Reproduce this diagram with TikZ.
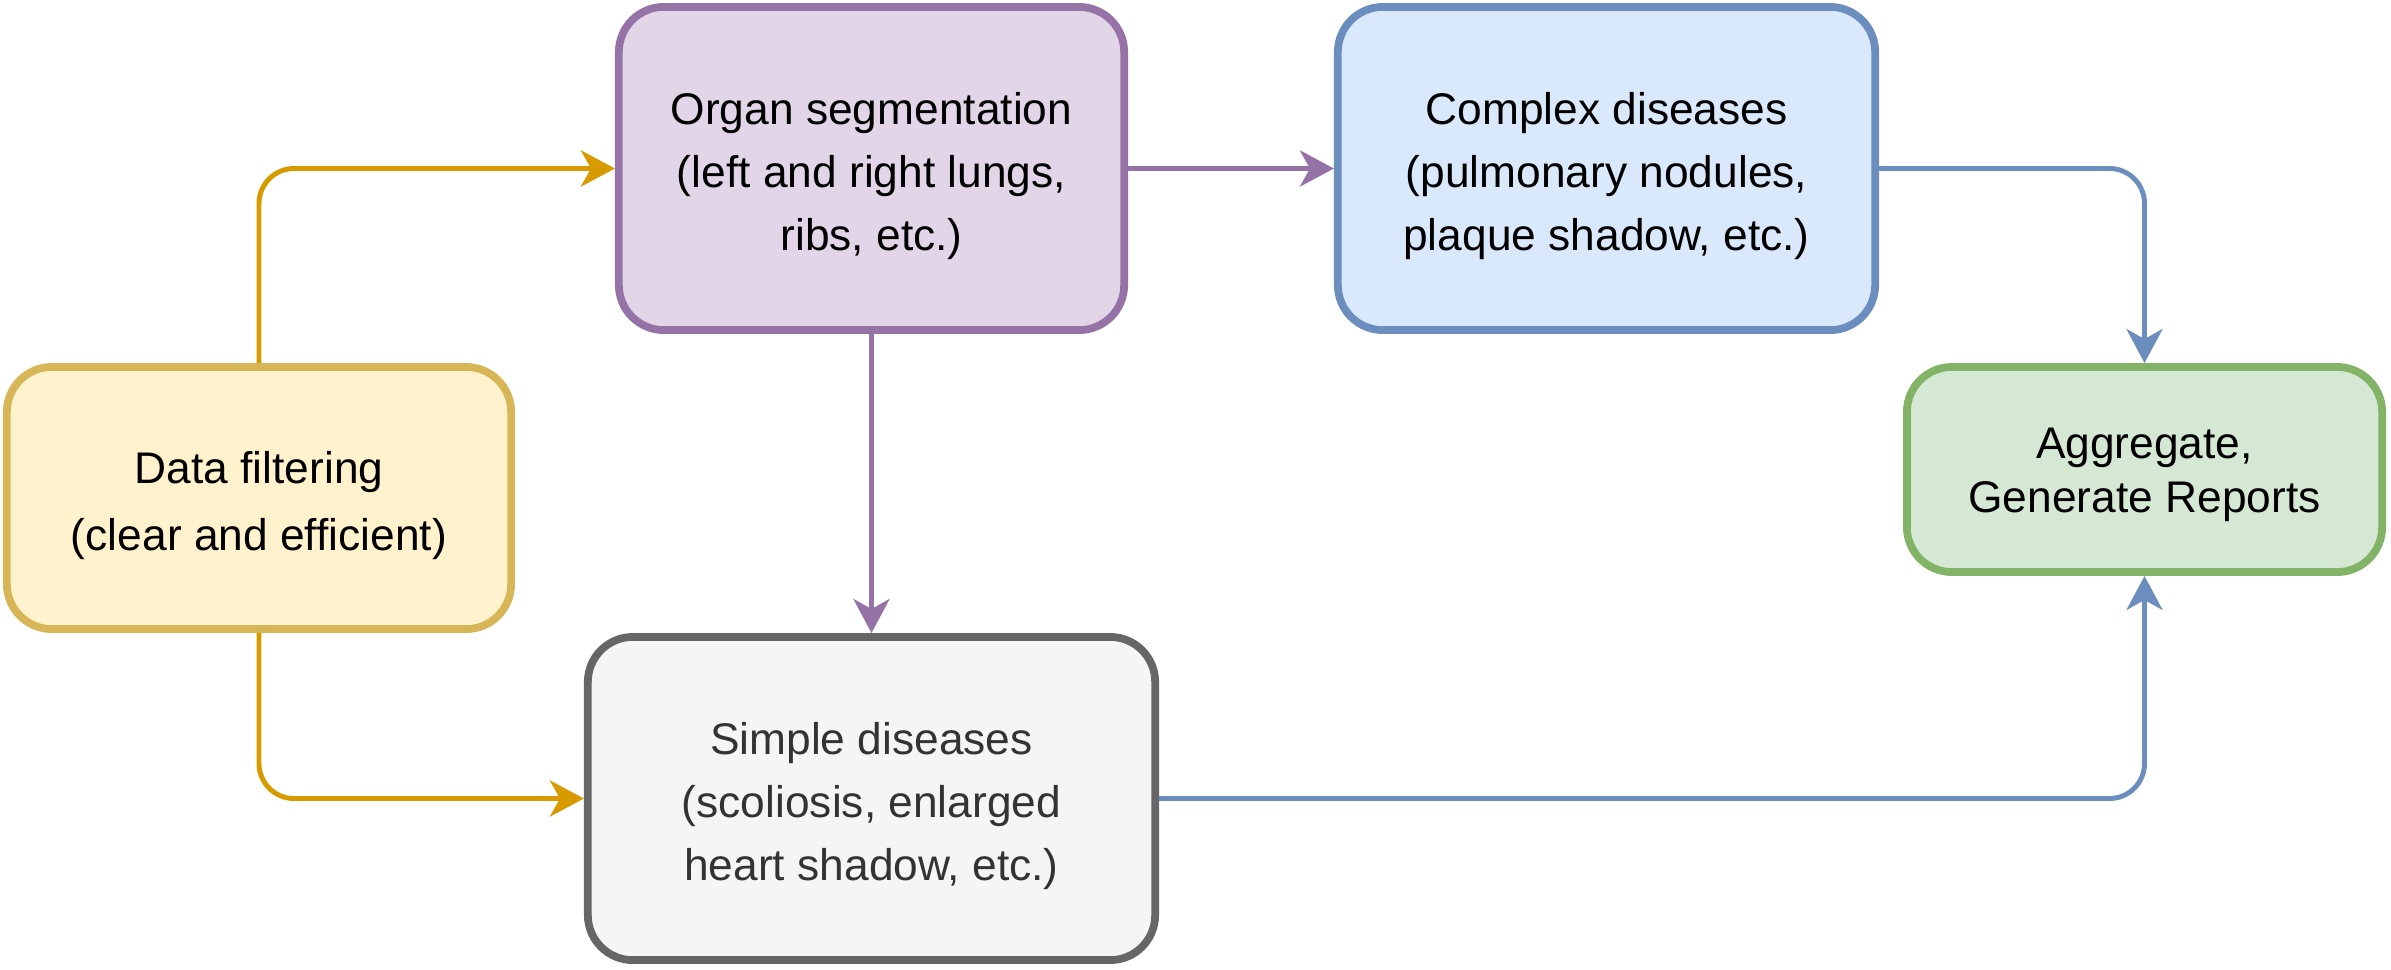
\documentclass[tikz,border=0pt]{standalone}
\usepackage{fontspec}
\setmainfont{Liberation Sans}
\usetikzlibrary{arrows.meta}
\definecolor{yfill}{HTML}{FFF2CC}\definecolor{ydraw}{HTML}{D6B656}\definecolor{oarrow}{HTML}{D79B00}
\definecolor{pfill}{HTML}{E1D5E7}\definecolor{pdraw}{HTML}{9673A6}
\definecolor{bfill}{HTML}{DAE8FC}\definecolor{bdraw}{HTML}{6C8EBF}
\definecolor{gfill}{HTML}{D5E8D4}\definecolor{gdraw}{HTML}{82B366}
\definecolor{sfill}{HTML}{F5F5F5}\definecolor{sdraw}{HTML}{666666}\definecolor{stext}{HTML}{333333}
\tikzset{
  box/.style={draw, rectangle, rounded corners=0.45cm, line width=2.2pt, inner sep=0pt},
  txt/.style={align=center, inner sep=0pt, font=\fontsize{12.6}{17.9}\selectfont},
  conn/.style={line width=1.4pt, rounded corners=0.35cm,
    -{Stealth[length=0.34cm, width=0.36cm, inset=0.1cm]}},
}
\begin{document}
\begin{tikzpicture}[x=0.01cm, y=-0.01cm]
\useasboundingbox (0,0) rectangle (2391,969);
\node[box, fill=yfill, draw=ydraw, minimum width=5.04cm, minimum height=2.62cm] (df) at (259,498) {};
\node[txt, font=\fontsize{12.6}{19}\selectfont] (dft) at ([yshift=-2.2pt]df.center)
  {Data filtering\\(clear and efficient)};
\node[box, fill=pfill, draw=pdraw, minimum width=5.05cm, minimum height=3.23cm] (org) at (871.5,168.5) {};
\node[txt] (orgt) at ([yshift=-2.2pt]org.center)
  {Organ segmentation\\(left and right lungs,\\ribs, etc.)};
\node[box, fill=bfill, draw=bdraw, minimum width=5.37cm, minimum height=3.23cm] (cpx) at (1606.5,168.5) {};
\node[txt] (cpxt) at ([yshift=-2.2pt]cpx.center)
  {Complex diseases\\(pulmonary nodules,\\plaque shadow, etc.)};
\node[box, fill=gfill, draw=gdraw, minimum width=4.75cm, minimum height=2.05cm] (agg) at (2144.5,469.5) {};
\node[txt, font=\fontsize{12.6}{15.2}\selectfont] (aggt) at ([yshift=-1.5pt]agg.center)
  {Aggregate,\\Generate Reports};
\node[box, fill=sfill, draw=sdraw, minimum width=5.67cm, minimum height=3.23cm] (smp) at (871.5,798.5) {};
\node[txt, text=stext] (smpt) at ([yshift=-2.2pt]smp.center)
  {Simple diseases\\(scoliosis, enlarged\\heart shadow, etc.)};
\draw[conn, oarrow] (df.north) |- (org.west);
\draw[conn, oarrow] (df.south) |- (smp.west);
\draw[conn, pdraw] (org.east) -- (cpx.west);
\draw[conn, pdraw] (org.south) -- (smp.north);
\draw[conn, bdraw] (cpx.east) -| (agg.north);
\draw[conn, bdraw] (smp.east) -| (agg.south);
\end{tikzpicture}
\end{document}
